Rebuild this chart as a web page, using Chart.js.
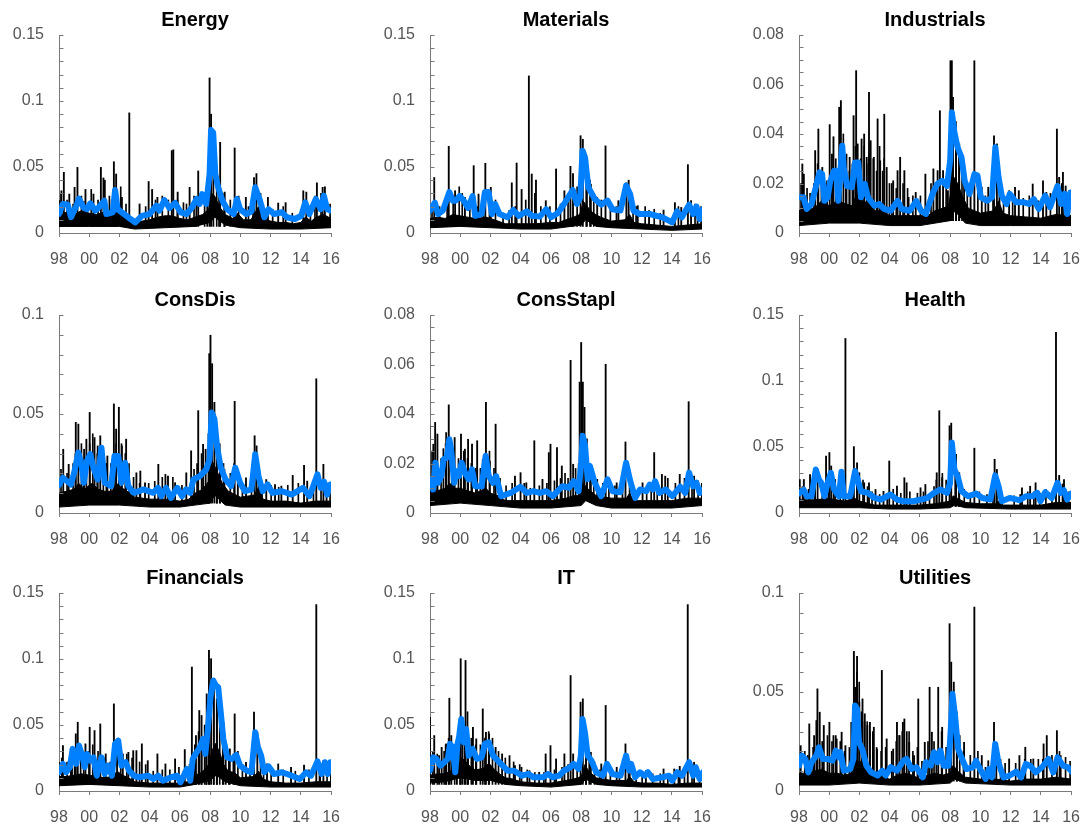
<!DOCTYPE html>
<html>
<head>
<meta charset="utf-8">
<title>Sector volatility</title>
<script src="https://cdn.jsdelivr.net/npm/chart.js@4.4.0/dist/chart.umd.min.js"></script>
<style>
  body { margin: 0; background: #fff; overflow: hidden; }
  #wrap { position: relative; width: 1092px; height: 829px; }
  #wrap canvas { position: absolute; }
</style>
</head>
<body>
<div id="wrap"></div>
<script>
// ---- data: [year, value] ----
// blue = smoothed estimate, hi/lo = body of the daily series, spikes/small = daily peaks
var energyBlue = [[1998,.0144],[1998.25,.022],[1998.58,.0215],[1998.8,.012],[1999.2,.022],[1999.32,.026],[1999.64,.019],[1999.85,.018],[2000.07,.0225],[2000.4,.017],[2000.6,.019],[2001,.0245],[2001.13,.0144],[2001.56,.0157],[2001.71,.0326],[2001.88,.018],[2002.3,.0144],[2002.73,.0106],[2003.05,.008],[2003.48,.013],[2004,.0144],[2004.44,.0207],[2004.65,.017],[2004.97,.025],[2005.3,.019],[2005.68,.0227],[2006.04,.0157],[2006.46,.0144],[2006.78,.019],[2007.1,.0258],[2007.3,.022],[2007.47,.0295],[2007.74,.022],[2007.96,.0447],[2008.06,.078],[2008.2,.076],[2008.34,.0447],[2008.53,.0346],[2008.81,.0245],[2009.13,.018],[2009.56,.0144],[2009.77,.0258],[2009.98,.018],[2010.4,.0144],[2010.73,.0164],[2010.98,.0346],[2011.26,.0258],[2011.43,.019],[2011.58,.0119],[2011.86,.018],[2012.22,.0144],[2012.75,.0157],[2013.07,.0119],[2013.6,.0106],[2014.03,.0131],[2014.29,.0232],[2014.56,.0144],[2014.99,.0258],[2015.31,.018],[2015.52,.0283],[2015.74,.018],[2015.95,.017],[2016.05,.0174]];
var energyHi = [[1998,.013],[1998.5,.016],[1999,.014],[1999.5,.017],[2000,.015],[2000.5,.014],[2001,.016],[2001.5,.012],[2001.75,.02],[2002,.014],[2002.5,.011],[2003,.008],[2003.5,.009],[2004,.01],[2004.5,.012],[2005,.013],[2005.5,.013],[2006,.011],[2006.5,.01],[2007,.012],[2007.5,.014],[2007.9,.018],[2008.1,.03],[2008.3,.028],[2008.6,.02],[2009,.014],[2009.5,.011],[2009.8,.015],[2010.2,.01],[2010.7,.01],[2011,.016],[2011.2,.02],[2011.5,.011],[2012,.009],[2012.5,.008],[2013,.008],[2013.5,.007],[2014,.008],[2014.3,.012],[2014.7,.009],[2015,.012],[2015.5,.014],[2016,.011]];
var energyLo = [[1998,.005],[2000,.005],[2002,.005],[2003,.003],[2005,.004],[2007,.005],[2008,.008],[2008.3,.012],[2009,.006],[2010,.004],[2012,.003],[2014,.003],[2016,.004]];
var energySpikes = [[1998.04,.0245],[1998.2,.032],[1998.36,.046],[1998.72,.0295],[1999.07,.0346],[1999.26,.0497],[1999.79,.033],[2000.32,.0295],[2000.81,.0497],[2000.98,.0417],[2001.07,.04],[2001.67,.054],[2001.82,.0447],[2002.2,.027],[2002.69,.091],[2003.37,.022],[2003.97,.039],[2004.2,.033],[2004.55,.027],[2005.5,.0624],[2005.6,.063],[2005.89,.031],[2006.68,.0346],[2007.25,.047],[2007.85,.0384],[2008.0,.1175],[2008.1,.09],[2008.25,.065],[2008.7,.0687],[2009.0,.031],[2009.66,.0644],[2010.4,.027],[2010.94,.042],[2011.1,.045],[2011.86,.027],[2012.54,.0227],[2013.03,.023],[2014.2,.032],[2014.4,.031],[2015.1,.038],[2015.48,.0346],[2015.63,.035]];
var energySmall = [[1998.1,.03],[1998.5,.025],[1998.9,.022],[1999.45,.028],[1999.6,.024],[2000.1,.033],[2000.55,.025],[2001.3,.028],[2001.45,.025],[2002.05,.035],[2002.4,.022],[2003.7,.02],[2004.35,.025],[2004.8,.028],[2005.2,.025],[2005.8,.025],[2006.2,.023],[2006.4,.022],[2006.9,.028],[2007.05,.026],[2007.6,.03],[2008.4,.05],[2008.55,.04],[2008.9,.03],[2009.3,.025],[2009.85,.028],[2010.5,.02],[2010.8,.02],[2011.3,.03],[2012.1,.018],[2012.8,.02],[2013.4,.015],[2014.6,.02],[2014.9,.028],[2015.3,.03],[2015.9,.022]];

var materialsBlue = [[1998,.017],[1998.32,.023],[1998.53,.0144],[1998.85,.017],[1999.28,.031],[1999.5,.0245],[1999.7,.0245],[1999.96,.028],[2000.24,.0245],[2000.52,.019],[2000.82,.028],[2000.99,.013],[2001.42,.0144],[2001.63,.031],[2001.88,.031],[2002.1,.0144],[2002.31,.022],[2002.59,.0144],[2003.13,.0119],[2003.5,.0174],[2003.87,.013],[2004.4,.0164],[2004.73,.013],[2005.26,.0124],[2005.69,.018],[2006.01,.0119],[2006.44,.015],[2006.87,.022],[2007.44,.0326],[2007.72,.022],[2007.94,.027],[2008.09,.0624],[2008.26,.057],[2008.47,.0346],[2008.9,.0258],[2009.32,.0215],[2009.75,.0245],[2010.07,.018],[2010.6,.017],[2010.97,.0359],[2011.24,.0295],[2011.46,.017],[2011.88,.0144],[2012.53,.0144],[2013.38,.0119],[2014.02,.008],[2014.34,.0164],[2014.66,.0119],[2015.14,.0215],[2015.41,.0144],[2015.63,.02],[2015.84,.0106],[2016.05,.018]];
var materialsHi = [[1998,.011],[1998.5,.012],[1999,.011],[1999.5,.014],[2000,.013],[2000.5,.012],[2001,.011],[2001.7,.012],[2002,.011],[2002.5,.009],[2003,.007],[2004,.007],[2005,.007],[2006,.008],[2006.5,.008],[2007,.01],[2007.5,.012],[2007.9,.014],[2008.15,.024],[2008.4,.02],[2008.8,.015],[2009.3,.012],[2010,.009],[2010.9,.01],[2011.2,.014],[2011.5,.008],[2012,.007],[2013,.006],[2014,.005],[2015,.006],[2016,.007]];
var materialsLo = [[1998,.004],[2000,.005],[2002,.004],[2004,.003],[2006,.003],[2008,.006],[2008.3,.01],[2009,.005],[2010,.004],[2012,.003],[2014,.002],[2016,.003]];
var materialsSpikes = [[1998.32,.042],[1999.28,.0657],[1999.7,.032],[2000.35,.027],[2000.93,.051],[2001.25,.0295],[2001.7,.0528],[2002.06,.0346],[2003.45,.038],[2003.77,.053],[2004.1,.033],[2004.58,.119],[2004.77,.0447],[2005.05,.04],[2005.7,.0245],[2006.38,.0485],[2006.93,.032],[2007.33,.0505],[2007.5,.045],[2008.0,.0737],[2008.15,.071],[2008.42,.0485],[2008.68,.037],[2009.1,.027],[2009.65,.066],[2010.5,.0245],[2011.03,.038],[2011.18,.04],[2011.78,.0207],[2012.53,.017],[2013.49,.0174],[2014.24,.023],[2014.66,.0194],[2015.1,.0518],[2015.31,.0245],[2015.74,.0207]];
var materialsSmall = [[1998.1,.022],[1998.6,.02],[1999.1,.025],[1999.5,.028],[1999.9,.035],[2000.1,.03],[2000.6,.025],[2001.1,.02],[2001.5,.022],[2001.9,.03],[2002.3,.025],[2002.8,.015],[2003.2,.017],[2003.6,.02],[2004.3,.025],[2004.9,.03],[2005.3,.02],[2005.9,.02],[2006.6,.022],[2007.1,.03],[2007.7,.035],[2008.3,.045],[2008.55,.04],[2008.8,.03],[2009.3,.025],[2009.9,.02],[2010.3,.02],[2011.4,.025],[2011.6,.02],[2012.2,.02],[2012.8,.018],[2013.2,.015],[2014.4,.02],[2015.5,.022],[2015.9,.02]];

var industrialsBlue = [[1998,.0144],[1998.3,.0144],[1998.51,.0097],[1998.83,.0117],[1999.11,.0185],[1999.36,.0245],[1999.53,.0238],[1999.68,.013],[1999.9,.0144],[2000.05,.0205],[2000.32,.0252],[2000.47,.0252],[2000.6,.013],[2000.86,.0353],[2000.96,.0265],[2001.18,.019],[2001.5,.0185],[2001.71,.0285],[2001.92,.0285],[2002.1,.0144],[2002.35,.0198],[2002.56,.0144],[2002.99,.011],[2003.31,.0117],[2003.63,.0097],[2004.06,.009],[2004.52,.013],[2004.8,.0097],[2005.33,.009],[2005.76,.013],[2006.08,.009],[2006.4,.0077],[2006.83,.0158],[2007.15,.0198],[2007.47,.0211],[2007.79,.019],[2008,.0292],[2008.11,.0488],[2008.28,.0407],[2008.49,.0346],[2008.75,.0306],[2008.96,.0211],[2009.28,.0158],[2009.6,.0238],[2009.81,.0232],[2010.03,.0144],[2010.45,.013],[2010.77,.0144],[2010.99,.0346],[2011.2,.0225],[2011.41,.0151],[2011.73,.0117],[2011.94,.0158],[2012.37,.0124],[2012.9,.0124],[2013.22,.0117],[2013.54,.0137],[2013.86,.0097],[2014.29,.0151],[2014.61,.0104],[2015.1,.019],[2015.35,.0117],[2015.57,.0158],[2015.74,.0077],[2015.95,.0164],[2016.1,.0144]];
var industrialsHi = [[1998,.009],[1998.5,.01],[1999,.01],[1999.5,.013],[2000,.011],[2000.5,.013],[2001,.012],[2001.5,.011],[2001.85,.016],[2002.2,.013],[2002.6,.012],[2003,.009],[2003.5,.009],[2004,.007],[2005,.007],[2006,.007],[2006.5,.007],[2007,.009],[2007.5,.01],[2007.9,.011],[2008.2,.023],[2008.5,.02],[2008.8,.015],[2009.2,.01],[2010,.008],[2010.9,.009],[2011.2,.013],[2011.5,.008],[2012,.007],[2013,.0065],[2014,.006],[2015,.0075],[2016,.007]];
var industrialsLo = [[1998,.003],[2000,.004],[2002,.004],[2004,.003],[2006,.003],[2008,.005],[2008.3,.009],[2009,.004],[2010,.003],[2012,.003],[2014,.003],[2016,.003]];
var industrialsSpikes = [[1998.26,.0279],[1998.36,.0238],[1999.11,.0333],[1999.32,.042],[1999.58,.0265],[1999.9,.0211],[2000.07,.0438],[2000.22,.0319],[2000.32,.0389],[2000.7,.0508],[2000.81,.0535],[2001.18,.0319],[2001.39,.0306],[2001.65,.0474],[2001.82,.0656],[2001.92,.036],[2002.18,.038],[2002.35,.04],[2002.52,.0306],[2002.67,.0568],[2002.78,.0373],[2002.99,.0306],[2003.24,.0461],[2003.41,.0292],[2003.68,.048],[2003.84,.0265],[2004.27,.0211],[2004.56,.0252],[2004.73,.0306],[2005.01,.0252],[2005.29,.0144],[2005.76,.0164],[2006.4,.0238],[2006.93,.0259],[2007.21,.0252],[2007.36,.0494],[2007.57,.0252],[2007.89,.0171],[2008.06,.0696],[2008.15,.0696],[2008.23,.0548],[2008.43,.0413],[2008.64,.036],[2008.96,.0252],[2009.39,.0185],[2009.64,.0696],[2010.13,.0185],[2010.56,.0185],[2010.94,.0393],[2011.13,.036],[2011.3,.0238],[2011.94,.0171],[2012.33,.0185],[2012.58,.0171],[2013.5,.0198],[2014.18,.0211],[2014.4,.0164],[2015.1,.042],[2015.25,.0225],[2015.5,.0245],[2015.68,.019]];
var industrialsSmall = [[1998.1,.02],[1998.5,.018],[1998.7,.016],[1998.95,.02],[1999.2,.028],[1999.45,.022],[1999.75,.02],[2000.15,.025],[2000.4,.03],[2000.55,.025],[2000.9,.04],[2001.05,.03],[2001.3,.025],[2001.5,.028],[2001.7,.035],[2002.05,.03],[2002.28,.035],[2002.45,.028],[2002.6,.032],[2002.88,.03],[2003.1,.025],[2003.3,.035],[2003.5,.025],[2003.6,.03],[2003.95,.02],[2004.1,.02],[2004.4,.018],[2004.85,.02],[2005.15,.018],[2005.5,.015],[2006.0,.015],[2006.7,.02],[2007.05,.02],[2007.7,.022],[2008.35,.045],[2008.55,.035],[2008.75,.03],[2009.1,.02],[2009.8,.02],[2010.3,.015],[2010.8,.018],[2011.5,.015],[2012.1,.014],[2012.8,.014],[2013.2,.015],[2013.8,.013],[2014.6,.016],[2015.35,.02],[2015.85,.015]];

var consDisBlue = [[1998,.0141],[1998.26,.0178],[1998.58,.0158],[1998.79,.0144],[1999,.0203],[1999.28,.0305],[1999.49,.0246],[1999.64,.0153],[1999.85,.0263],[2000.07,.0297],[2000.28,.0229],[2000.56,.0169],[2000.81,.033],[2001.02,.0153],[2001.45,.0136],[2001.67,.0288],[2001.92,.0288],[2002.13,.0153],[2002.37,.0254],[2002.58,.0136],[2002.95,.0102],[2003.59,.0119],[2004.23,.0102],[2004.55,.0127],[2004.76,.0085],[2005.08,.0127],[2005.4,.0076],[2005.82,.0127],[2006.14,.0085],[2006.4,.0119],[2006.68,.0102],[2006.89,.0169],[2007.32,.0186],[2007.74,.022],[2007.96,.0271],[2008.1,.0508],[2008.28,.0475],[2008.45,.0339],[2008.7,.0229],[2009.02,.0169],[2009.39,.0136],[2009.66,.0229],[2009.98,.0153],[2010.3,.011],[2010.73,.0119],[2010.98,.0297],[2011.2,.0186],[2011.47,.011],[2011.8,.0144],[2012.11,.0102],[2012.75,.011],[2013.39,.0093],[2014.14,.0127],[2014.57,.0085],[2015.1,.0195],[2015.31,.0127],[2015.53,.0158],[2015.74,.0093],[2015.95,.0144],[2016.1,.0132]];
var consDisHi = [[1998,.01],[1998.5,.011],[1999,.012],[1999.3,.015],[1999.7,.012],[2000,.014],[2000.2,.015],[2000.6,.012],[2001,.011],[2001.5,.011],[2001.8,.015],[2002.1,.013],[2002.5,.011],[2003,.008],[2004,.007],[2005,.007],[2006,.006],[2006.6,.007],[2007,.01],[2007.5,.012],[2007.9,.016],[2008.15,.026],[2008.4,.022],[2008.8,.015],[2009.2,.011],[2010,.008],[2010.9,.009],[2011.2,.013],[2011.5,.007],[2012,.006],[2013,.006],[2014,.005],[2015,.006],[2016,.006]];
var consDisLo = [[1998,.003],[2000,.004],[2002,.004],[2004,.003],[2006,.003],[2008,.005],[2008.3,.009],[2009,.004],[2010,.003],[2012,.003],[2014,.003],[2016,.003]];
var consDisSpikes = [[1998.32,.0322],[1998.68,.0246],[1999.15,.0458],[1999.32,.0449],[1999.7,.0322],[1999.85,.0373],[2000.07,.0508],[2000.39,.0381],[2000.6,.0339],[2000.77,.039],[2001.24,.0288],[2001.67,.0551],[2001.82,.0424],[2002.0,.0534],[2002.2,.0339],[2002.48,.0373],[2003.16,.0203],[2003.42,.0212],[2003.73,.0153],[2004.61,.0246],[2005.08,.0195],[2005.25,.0186],[2005.72,.0153],[2006.46,.0203],[2006.78,.0314],[2007.25,.0517],[2007.57,.0347],[2007.74,.0322],[2007.98,.0805],[2008.06,.0898],[2008.17,.0754],[2008.32,.0559],[2008.49,.0364],[2008.7,.0288],[2008.98,.022],[2009.66,.0564],[2009.87,.0186],[2010.41,.0178],[2010.98,.039],[2011.11,.0339],[2011.26,.0186],[2011.75,.0169],[2012.33,.0144],[2012.75,.0136],[2013.5,.019],[2014.25,.0241],[2014.46,.0161],[2015.06,.0678],[2015.53,.0246],[2015.74,.0153]];
var consDisSmall = [[1998.1,.022],[1998.5,.02],[1998.9,.025],[1999.05,.03],[1999.45,.035],[1999.6,.025],[2000.0,.035],[2000.2,.04],[2000.5,.03],[2000.9,.03],[2001.1,.025],[2001.4,.025],[2001.75,.035],[2002.1,.035],[2002.35,.03],[2002.6,.025],[2002.9,.018],[2003.3,.015],[2003.9,.015],[2004.3,.016],[2004.8,.018],[2005.5,.018],[2006.1,.014],[2006.9,.022],[2007.1,.025],[2007.4,.03],[2007.85,.04],[2008.4,.045],[2008.6,.035],[2008.85,.025],[2009.3,.02],[2009.55,.025],[2010.1,.015],[2010.7,.016],[2011.4,.015],[2012.0,.014],[2012.5,.013],[2013.1,.014],[2013.8,.015],[2014.8,.014],[2015.3,.016],[2015.9,.014]];

var consStaplBlue = [[1998,.0136],[1998.21,.0095],[1998.36,.0203],[1998.53,.0122],[1998.75,.0149],[1998.9,.0217],[1999.11,.0224],[1999.28,.0298],[1999.39,.0258],[1999.6,.0122],[1999.75,.0169],[1999.92,.0149],[2000.09,.0203],[2000.31,.0163],[2000.56,.0136],[2000.78,.0176],[2000.99,.0108],[2001.42,.0108],[2001.68,.0231],[2001.89,.0149],[2002.17,.0122],[2002.38,.0149],[2002.7,.0068],[2003.34,.0081],[2003.98,.0106],[2004.41,.0081],[2004.84,.0088],[2005.26,.0081],[2005.69,.0088],[2006.12,.0068],[2006.44,.0088],[2006.76,.0108],[2007.19,.0102],[2007.51,.0129],[2007.83,.0088],[2008,.0203],[2008.1,.0312],[2008.26,.0271],[2008.43,.0136],[2008.58,.019],[2008.9,.0122],[2009.32,.0068],[2009.75,.0136],[2010.07,.0088],[2010.6,.0084],[2010.97,.0203],[2011.25,.0129],[2011.57,.0061],[2011.89,.0095],[2012.32,.0088],[2012.53,.0115],[2012.74,.0095],[2012.89,.0129],[2013.17,.0081],[2013.6,.0095],[2014.03,.0068],[2014.56,.0106],[2014.88,.0081],[2015.14,.0163],[2015.41,.0108],[2015.63,.0122],[2015.84,.0081],[2016.06,.0095]];
var consStaplHi = [[1998,.009],[1998.5,.009],[1999,.01],[1999.3,.012],[1999.7,.01],[2000,.01],[2000.5,.009],[2001,.008],[2001.7,.01],[2002,.008],[2002.5,.007],[2003,.005],[2004,.005],[2005,.005],[2006,.005],[2007,.006],[2007.5,.007],[2007.9,.007],[2008.15,.012],[2008.4,.01],[2009,.007],[2010,.006],[2011,.006],[2011.2,.008],[2011.5,.005],[2012,.005],[2013,.005],[2014,.005],[2015,.006],[2016,.006]];
var consStaplLo = [[1998,.003],[2000,.004],[2002,.003],[2004,.002],[2006,.002],[2008,.003],[2008.3,.005],[2009,.003],[2010,.002],[2012,.002],[2014,.002],[2016,.003]];
var consStaplSpikes = [[1998.0,.0353],[1998.26,.0278],[1998.38,.0366],[1998.53,.0319],[1999.11,.0325],[1999.28,.0437],[1999.67,.0305],[2000.09,.0319],[2000.35,.0258],[2000.56,.0298],[2000.82,.0278],[2001.16,.0292],[2001.53,.0217],[2001.74,.0447],[2002.0,.021],[2002.38,.0359],[2003.66,.0149],[2004.03,.0163],[2004.41,.0122],[2004.94,.0292],[2005.48,.0136],[2005.9,.0244],[2006.01,.0278],[2006.44,.0264],[2006.76,.019],[2007.34,.0617],[2007.51,.0197],[2007.94,.0529],[2008.04,.0689],[2008.15,.0529],[2008.26,.0427],[2008.43,.0231],[2008.68,.0163],[2009.1,.0136],[2009.66,.0601],[2010.39,.0122],[2010.97,.0287],[2011.25,.0149],[2012.1,.0122],[2012.87,.0244],[2013.38,.0156],[2013.6,.0149],[2014.56,.0156],[2015.15,.045],[2015.51,.0149]];
var consStaplSmall = [[1998.1,.025],[1998.45,.02],[1998.7,.022],[1998.85,.026],[1999.0,.028],[1999.2,.03],[1999.4,.025],[1999.55,.02],[1999.85,.022],[2000.2,.025],[2000.45,.022],[2000.7,.02],[2001.0,.018],[2001.3,.018],[2001.6,.02],[2001.9,.025],[2002.2,.018],[2002.6,.014],[2003.0,.011],[2003.4,.012],[2004.2,.012],[2004.6,.01],[2005.2,.011],[2005.7,.012],[2006.2,.013],[2006.6,.014],[2006.9,.016],[2007.1,.014],[2007.6,.018],[2007.8,.02],[2008.35,.03],[2008.55,.02],[2008.8,.014],[2009.4,.012],[2009.8,.014],[2010.2,.011],[2010.7,.011],[2011.4,.01],[2012.3,.011],[2012.6,.012],[2013.0,.012],[2013.7,.014],[2014.2,.012],[2014.8,.014],[2015.3,.013],[2015.7,.013],[2015.95,.012]];

var healthBlue = [[1998,.0147],[1998.3,.0178],[1998.51,.0127],[1998.83,.0127],[1999.11,.033],[1999.32,.0254],[1999.47,.0229],[1999.68,.0127],[1999.9,.0229],[2000.11,.0305],[2000.32,.0178],[2000.64,.0127],[2000.81,.0313],[2000.96,.0127],[2001.39,.0127],[2001.71,.0318],[2001.88,.0254],[2002.1,.0165],[2002.56,.0153],[2002.99,.0114],[2003.42,.0102],[2004.06,.014],[2004.48,.0102],[2004.91,.0089],[2005.55,.0089],[2006.08,.0102],[2006.5,.0114],[2006.93,.0153],[2007.36,.0178],[2007.79,.0153],[2008,.0229],[2008.11,.0534],[2008.28,.033],[2008.49,.028],[2008.75,.0165],[2009.18,.0127],[2009.71,.0147],[2010.13,.0114],[2010.66,.0102],[2010.98,.0285],[2011.2,.0203],[2011.41,.0089],[2011.94,.0114],[2012.58,.0097],[2013.01,.0127],[2013.44,.0127],[2013.76,.0153],[2013.97,.0089],[2014.29,.0158],[2014.72,.0114],[2015.1,.0229],[2015.31,.0153],[2015.52,.0173],[2015.74,.0102],[2015.99,.0147]];
var healthHi = [[1998,.01],[1999,.01],[2000,.011],[2001,.009],[2001.7,.011],[2002,.009],[2003,.006],[2004,.006],[2005,.006],[2006,.006],[2007,.007],[2007.5,.008],[2008,.009],[2008.2,.013],[2008.5,.011],[2009,.008],[2010,.007],[2011,.007],[2011.2,.009],[2011.5,.006],[2012,.006],[2013,.006],[2014,.006],[2015,.008],[2016,.008]];
var healthLo = [[1998,.004],[2000,.004],[2002,.004],[2004,.003],[2006,.003],[2008,.004],[2008.3,.006],[2009,.004],[2012,.003],[2014,.003],[2016,.003]];
var healthSpikes = [[1998.09,.0254],[1998.36,.0254],[1998.77,.0292],[1999.11,.0242],[1999.83,.0432],[2000.05,.0458],[2000.17,.0356],[2000.43,.0254],[2001.11,.1322],[2001.67,.0503],[2001.88,.0381],[2002.03,.0305],[2002.35,.0229],[2002.67,.0229],[2003.1,.0178],[2003.63,.0165],[2004.01,.0394],[2004.52,.0203],[2005.01,.0267],[2005.16,.0229],[2006.08,.0191],[2006.4,.0216],[2007.15,.0305],[2007.32,.0775],[2007.51,.0267],[2008.0,.0661],[2008.11,.0681],[2008.43,.0445],[2008.64,.0305],[2009.64,.0491],[2010.98,.0407],[2011.13,.033],[2012.79,.0191],[2013.33,.0203],[2013.69,.0229],[2015.04,.1368],[2015.25,.0285],[2015.57,.0254]];
var healthSmall = [[1998.2,.02],[1998.6,.018],[1999.0,.02],[1999.2,.025],[1999.5,.022],[1999.9,.025],[2000.25,.025],[2000.7,.02],[2000.9,.02],[2001.3,.016],[2001.5,.018],[2001.8,.03],[2002.2,.025],[2002.5,.02],[2002.8,.016],[2003.3,.014],[2003.8,.015],[2004.2,.018],[2004.7,.015],[2005.3,.016],[2005.8,.015],[2006.2,.016],[2006.6,.014],[2006.9,.02],[2007.05,.025],[2007.45,.03],[2007.7,.025],[2008.3,.04],[2008.55,.03],[2008.9,.018],[2009.3,.015],[2009.9,.016],[2010.4,.014],[2010.8,.014],[2011.4,.012],[2012.2,.013],[2012.6,.014],[2013.1,.016],[2013.5,.016],[2013.9,.015],[2014.3,.018],[2014.7,.016],[2015.4,.022],[2015.8,.016]];

var financialsBlue = [[1998,.0142],[1998.26,.0205],[1998.47,.0142],[1998.72,.018],[1998.9,.0319],[1999.15,.0205],[1999.32,.0344],[1999.54,.0268],[1999.7,.018],[1999.85,.0281],[2000.07,.023],[2000.28,.0255],[2000.5,.0116],[2000.81,.0255],[2001.02,.0129],[2001.24,.0192],[2001.5,.0116],[2001.71,.0357],[2001.92,.0382],[2002.13,.0192],[2002.41,.0218],[2002.63,.0154],[2002.95,.0116],[2003.27,.0104],[2003.91,.0116],[2004.23,.0091],[2004.55,.0116],[2004.87,.0078],[2005.4,.0104],[2005.82,.0116],[2006.04,.0066],[2006.46,.0167],[2006.68,.0078],[2006.85,.0243],[2007.1,.0293],[2007.32,.0331],[2007.53,.0395],[2007.68,.0281],[2007.85,.047],[2008.02,.0711],[2008.21,.0837],[2008.38,.0799],[2008.53,.0787],[2008.7,.0597],[2008.87,.0395],[2009.13,.0255],[2009.45,.0243],[2009.73,.0273],[2009.98,.0192],[2010.41,.0154],[2010.73,.0142],[2010.98,.0445],[2011.16,.0331],[2011.37,.0268],[2011.58,.0142],[2011.86,.0187],[2012.22,.0129],[2012.75,.0142],[2013.39,.0116],[2013.93,.0091],[2014.35,.0142],[2014.67,.0116],[2015.1,.0225],[2015.37,.0129],[2015.59,.0218],[2015.78,.0129],[2015.95,.0218],[2016.1,.0205]];
var financialsHi = [[1998,.011],[1998.5,.011],[1999,.012],[1999.5,.013],[2000,.012],[2000.5,.011],[2001,.01],[2001.5,.011],[2001.85,.015],[2002.2,.012],[2002.6,.01],[2003,.007],[2004,.006],[2005,.006],[2006,.006],[2006.5,.007],[2006.9,.012],[2007.3,.013],[2007.6,.016],[2007.9,.02],[2008.1,.03],[2008.35,.036],[2008.6,.03],[2008.9,.02],[2009.2,.015],[2009.6,.014],[2010,.01],[2010.9,.011],[2011.2,.015],[2011.5,.009],[2012,.007],[2013,.006],[2014,.006],[2015,.007],[2016,.007]];
var financialsLo = [[1998,.004],[2000,.005],[2002,.004],[2004,.003],[2006,.003],[2007,.005],[2008,.008],[2008.4,.012],[2009,.007],[2010,.004],[2012,.003],[2014,.003],[2016,.003]];
var financialsSpikes = [[1998.04,.0218],[1998.3,.0344],[1998.9,.0268],[1999.15,.0433],[1999.28,.0521],[1999.79,.0357],[2000.07,.0483],[2000.39,.0458],[2000.77,.0508],[2001.13,.0281],[2001.67,.066],[2001.88,.0395],[2002.26,.0281],[2002.63,.0293],[2002.95,.0306],[2003.16,.0306],[2003.52,.0357],[2003.91,.023],[2004.55,.0281],[2005.08,.0205],[2005.72,.0243],[2006.36,.0314],[2006.83,.0939],[2007.1,.042],[2007.32,.061],[2007.47,.0572],[2007.81,.0736],[2007.96,.1065],[2008.1,.1002],[2008.28,.0774],[2008.49,.0673],[2008.92,.0521],[2009.34,.0319],[2009.66,.0584],[2010.41,.0218],[2010.94,.0597],[2011.16,.0445],[2011.8,.0205],[2012.54,.0205],[2013.39,.018],[2014.25,.0197],[2015.06,.1412],[2015.31,.0167],[2015.53,.023]];
var financialsSmall = [[1998.15,.025],[1998.5,.022],[1998.75,.025],[1999.0,.03],[1999.4,.035],[1999.6,.028],[1999.95,.03],[2000.2,.035],[2000.55,.03],[2000.95,.025],[2001.35,.022],[2001.55,.025],[2002.05,.03],[2002.45,.028],[2002.8,.025],[2003.3,.022],[2003.7,.02],[2004.2,.015],[2004.8,.016],[2005.3,.016],[2005.9,.018],[2006.2,.015],[2006.6,.02],[2006.95,.035],[2007.2,.045],[2007.4,.04],[2007.6,.05],[2007.7,.045],[2007.9,.06],[2008.2,.08],[2008.4,.07],[2008.6,.06],[2008.8,.045],[2009.0,.035],[2009.2,.03],[2009.5,.028],[2009.8,.03],[2010.1,.02],[2010.6,.018],[2011.3,.03],[2011.5,.02],[2012.0,.018],[2012.8,.016],[2013.6,.015],[2014.5,.016],[2015.2,.02],[2015.7,.02],[2015.95,.02]];

var itBlue = [[1998,.0154],[1998.21,.0255],[1998.43,.0243],[1998.68,.0192],[1998.96,.0218],[1999.18,.0243],[1999.32,.0357],[1999.5,.0331],[1999.67,.0142],[1999.82,.0357],[1999.92,.0407],[2000.07,.0546],[2000.24,.0369],[2000.39,.047],[2000.56,.0268],[2000.82,.0319],[2001.1,.0243],[2001.42,.0255],[2001.63,.0357],[2001.89,.0369],[2002.17,.0268],[2002.59,.0218],[2003.13,.0154],[2003.56,.0154],[2004.09,.0116],[2004.52,.0129],[2004.84,.0104],[2005.48,.0104],[2005.8,.0129],[2006.12,.0104],[2006.55,.0116],[2006.87,.0154],[2007.29,.018],[2007.5,.0205],[2007.83,.0167],[2007.98,.0268],[2008.09,.0546],[2008.26,.0433],[2008.43,.0268],[2008.68,.023],[2009,.0142],[2009.43,.0116],[2009.71,.0205],[2010.07,.0129],[2010.6,.0116],[2010.97,.0268],[2011.18,.0154],[2011.31,.0205],[2011.57,.0104],[2011.89,.0142],[2012.21,.0116],[2012.42,.0142],[2012.74,.0091],[2013.38,.0104],[2013.81,.0116],[2014.02,.0078],[2014.35,.0142],[2014.67,.0116],[2015.14,.0218],[2015.41,.0116],[2015.58,.018],[2015.84,.0091],[2016.06,.0142]];
var itHi = [[1998,.012],[1998.5,.013],[1999,.013],[1999.5,.016],[1999.9,.02],[2000.1,.025],[2000.4,.022],[2000.7,.018],[2001,.016],[2001.5,.017],[2001.9,.021],[2002.3,.016],[2002.7,.012],[2003,.01],[2003.5,.009],[2004,.007],[2005,.006],[2006,.006],[2007,.008],[2007.5,.009],[2008,.011],[2008.25,.02],[2008.5,.015],[2009,.01],[2010,.008],[2011,.008],[2011.2,.011],[2011.5,.007],[2012,.006],[2013,.006],[2014,.005],[2015,.006],[2016,.006]];
var itLo = [[1998,.006],[1999,.007],[2000,.01],[2001,.008],[2002,.008],[2003,.005],[2004,.004],[2006,.003],[2008,.005],[2008.3,.009],[2009,.005],[2010,.004],[2012,.003],[2014,.003],[2016,.003]];
var itSpikes = [[1998.04,.0559],[1998.32,.042],[1998.64,.0268],[1998.81,.0331],[1999.11,.0357],[1999.32,.0703],[1999.45,.042],[1999.82,.0369],[2000.07,.1002],[2000.18,.0521],[2000.39,.0989],[2000.56,.047],[2000.88,.0483],[2001.1,.0395],[2001.53,.0622],[2001.74,.0445],[2001.95,.0433],[2002.38,.0331],[2002.81,.0281],[2003.3,.0268],[2003.66,.0192],[2004.09,.018],[2004.62,.0154],[2005.26,.0142],[2005.69,.0281],[2006.01,.0344],[2006.38,.0243],[2006.93,.0281],[2007.34,.0875],[2007.51,.0281],[2008.0,.0673],[2008.15,.0698],[2008.36,.0319],[2008.68,.0293],[2009.37,.0205],[2009.66,.0648],[2010.39,.018],[2010.97,.0357],[2011.25,.0192],[2012.32,.0154],[2013.49,.0167],[2014.2,.0167],[2014.56,.0187],[2015.09,.1412],[2015.51,.0218]];
var itSmall = [[1998.15,.03],[1998.45,.028],[1998.9,.03],[1999.0,.035],[1999.2,.04],[1999.6,.035],[1999.95,.05],[2000.25,.045],[2000.45,.06],[2000.7,.04],[2001.0,.035],[2001.3,.035],[2001.6,.04],[2001.85,.045],[2002.1,.04],[2002.5,.03],[2002.95,.025],[2003.5,.022],[2003.9,.02],[2004.4,.016],[2004.9,.014],[2005.5,.014],[2006.2,.016],[2006.7,.018],[2007.1,.02],[2007.7,.02],[2008.3,.04],[2008.5,.03],[2008.85,.022],[2009.2,.016],[2009.9,.018],[2010.5,.014],[2011.1,.02],[2011.6,.014],[2012.0,.014],[2012.7,.013],[2013.2,.013],[2013.7,.012],[2014.4,.014],[2014.8,.014],[2015.3,.016],[2015.8,.012]];

var utilitiesBlue = [[1998,.0128],[1998.19,.0179],[1998.41,.0162],[1998.62,.0094],[1998.83,.0145],[1999.15,.0179],[1999.32,.0221],[1999.58,.0162],[1999.9,.0162],[2000.22,.0153],[2000.43,.0204],[2000.64,.017],[2000.75,.0196],[2000.96,.0103],[2001.39,.0111],[2001.6,.0162],[2001.71,.0432],[2001.84,.0415],[2001.97,.0246],[2002.18,.0212],[2002.46,.0128],[2002.78,.0094],[2003.2,.0078],[2003.52,.0103],[2003.74,.0078],[2004.06,.012],[2004.48,.0103],[2004.91,.0153],[2005.12,.0162],[2005.44,.0111],[2005.76,.012],[2006.19,.0069],[2006.4,.0145],[2006.72,.0128],[2006.93,.0196],[2007.15,.0145],[2007.36,.0204],[2007.57,.0128],[2007.89,.0128],[2008.04,.0314],[2008.15,.0491],[2008.32,.0381],[2008.53,.0212],[2008.75,.017],[2009.07,.0111],[2009.5,.012],[2009.71,.0153],[2010.03,.0103],[2010.35,.0061],[2010.56,.0111],[2010.77,.0069],[2010.98,.0238],[2011.19,.0145],[2011.52,.0069],[2011.94,.0078],[2012.37,.0098],[2012.69,.0069],[2013.01,.0137],[2013.33,.0125],[2013.65,.0094],[2014.08,.012],[2014.5,.0162],[2014.82,.0094],[2015.1,.017],[2015.46,.0128],[2015.78,.012],[2016.1,.0094]];
var utilitiesHi = [[1998,.009],[1998.5,.009],[1999,.01],[1999.5,.011],[2000,.009],[2000.5,.009],[2001,.008],[2001.5,.009],[2001.75,.014],[2002.1,.015],[2002.5,.012],[2003,.008],[2003.5,.007],[2004,.006],[2004.5,.008],[2005,.009],[2005.5,.008],[2006,.006],[2006.5,.008],[2007,.009],[2007.5,.008],[2008,.009],[2008.2,.013],[2008.5,.01],[2009,.007],[2010,.006],[2011,.006],[2012,.005],[2013,.006],[2014,.006],[2015,.007],[2016,.006]];
var utilitiesLo = [[1998,.003],[2000,.003],[2002,.004],[2004,.003],[2006,.003],[2008,.004],[2008.3,.006],[2009,.004],[2012,.003],[2014,.003],[2016,.003]];
var utilitiesSpikes = [[1998.15,.0229],[1998.72,.0339],[1999.04,.028],[1999.19,.0356],[1999.26,.0516],[1999.41,.0398],[1999.68,.0331],[2000.05,.0347],[2000.32,.028],[2000.53,.0263],[2000.86,.0297],[2001.11,.0229],[2001.5,.0347],[2001.67,.0705],[2001.75,.0524],[2001.88,.068],[2002.03,.0449],[2002.24,.0465],[2002.39,.039],[2002.56,.0331],[2002.73,.0347],[2002.99,.0322],[2003.2,.0212],[2003.52,.0609],[2003.84,.0263],[2004.27,.0212],[2004.52,.0347],[2004.69,.028],[2004.91,.0347],[2005.01,.0364],[2005.33,.0246],[2005.65,.0179],[2005.93,.0465],[2006.36,.0246],[2006.68,.0524],[2006.83,.0297],[2007.25,.0524],[2007.51,.0322],[2008.0,.0845],[2008.11,.0651],[2008.28,.055],[2008.49,.0322],[2008.96,.0246],[2009.64,.0929],[2010.13,.0179],[2010.56,.0153],[2010.94,.0347],[2011.09,.0246],[2011.94,.0162],[2012.62,.0179],[2013.01,.0221],[2013.54,.0162],[2014.22,.0238],[2014.43,.028],[2015.1,.0305],[2015.35,.0179]];
var utilitiesSmall = [[1998.35,.02],[1998.55,.018],[1998.9,.022],[1999.5,.025],[1999.85,.028],[2000.15,.025],[2000.4,.028],[2000.7,.025],[2001.0,.02],[2001.3,.022],[2001.6,.04],[2001.8,.06],[2001.95,.055],[2002.1,.04],[2002.3,.035],[2002.48,.035],[2002.65,.03],[2002.85,.03],[2003.1,.022],[2003.4,.02],[2003.7,.022],[2004.1,.02],[2004.4,.025],[2004.6,.028],[2004.8,.03],[2005.1,.03],[2005.25,.03],[2005.5,.02],[2005.8,.022],[2006.1,.015],[2006.5,.025],[2006.9,.025],[2007.05,.02],[2007.4,.03],[2007.7,.022],[2007.9,.025],[2008.4,.04],[2008.6,.028],[2008.85,.02],[2009.3,.018],[2009.8,.02],[2010.3,.012],[2010.7,.013],[2011.3,.016],[2011.6,.014],[2012.3,.014],[2012.9,.016],[2013.3,.016],[2013.8,.016],[2014.1,.016],[2014.7,.018],[2015.2,.02],[2015.6,.017],[2015.9,.015]];

var titles = ['Energy', 'Materials', 'Industrials', 'ConsDis', 'ConsStapl', 'Health', 'Financials', 'IT', 'Utilities'];
var yMax   = [0.15, 0.15, 0.08, 0.1, 0.08, 0.15, 0.15, 0.15, 0.1];
var yMajor = [0.05, 0.05, 0.02, 0.05, 0.02, 0.05, 0.05, 0.05, 0.05];
var yMinor = [0.01, 0.01, 0.005, 0.01, 0.005, 0.01, 0.01, 0.01, 0.01];
var xTicks = ['98', '00', '02', '04', '06', '08', '10', '12', '14', '16'];
var spikeBase = 0.005;   // peaks rise out of the body of the series

var blues  = [energyBlue, materialsBlue, industrialsBlue, consDisBlue, consStaplBlue, healthBlue, financialsBlue, itBlue, utilitiesBlue];
var his    = [energyHi, materialsHi, industrialsHi, consDisHi, consStaplHi, healthHi, financialsHi, itHi, utilitiesHi];
var los    = [energyLo, materialsLo, industrialsLo, consDisLo, consStaplLo, healthLo, financialsLo, itLo, utilitiesLo];
var spikes = [energySpikes, materialsSpikes, industrialsSpikes, consDisSpikes, consStaplSpikes, healthSpikes, financialsSpikes, itSpikes, utilitiesSpikes];
var smalls = [energySmall, materialsSmall, industrialsSmall, consDisSmall, consStaplSmall, healthSmall, financialsSmall, itSmall, utilitiesSmall];

// ---- layout ----
var AXIS = '#7a7a7a', LABEL = '#555555', BLUE = '#0080ff';
var FONT = "'Liberation Sans', Arial, Helvetica, sans-serif";
var colLeft = [59, 430, 799];
var rowTop = [34.5, 315, 593];
var PW = 281.5, PH = 198;        // plot box
var YW = 56, XH = 32, TOP = 34;  // y axis width, x axis height, space for title
var CW = 350, CH = 272;

function xy(arr) {
  return arr.map(function (p) { return { x: p[0], y: p[1] }; });
}

function isMajor(v, step) {
  return Math.abs(v / step - Math.round(v / step)) < 1e-6;
}

// small inward tick marks on the y axis, plus the panel title
var panelDecor = {
  id: 'panelDecor',
  afterDraw: function (chart, args, opts) {
    var a = chart.chartArea, ctx = chart.ctx, ys = chart.scales.y;
    var x0 = Math.round(a.left) + 0.5;
    ctx.save();
    ctx.strokeStyle = AXIS;
    ctx.lineWidth = 1;
    ctx.beginPath();
    ys.ticks.forEach(function (t) {
      var py = Math.round(ys.getPixelForValue(t.value)) + 0.5;
      ctx.moveTo(x0, py);
      ctx.lineTo(x0 + 4, py);
    });
    ctx.stroke();

    ctx.fillStyle = '#000';
    ctx.font = 'bold 20px ' + FONT;
    ctx.textAlign = 'center';
    ctx.textBaseline = 'middle';
    ctx.fillText(opts.text, (a.left + a.right) / 2, a.top - 15);
    ctx.restore();
  }
};

var wrap = document.getElementById('wrap');

titles.forEach(function (title, i) {
  var cv = document.createElement('canvas');
  cv.width = CW;
  cv.height = CH;
  cv.style.left = (colLeft[i % 3] - YW) + 'px';
  cv.style.top = (rowTop[Math.floor(i / 3)] - TOP) + 'px';
  wrap.appendChild(cv);

  var major = yMajor[i];

  new Chart(cv, {
    type: 'line',
    data: {
      datasets: [
        { data: xy(blues[i]), borderColor: BLUE, borderWidth: 6, pointRadius: 0, tension: 0,
          borderJoinStyle: 'round', borderCapStyle: 'round', fill: false, order: 0 },
        { data: xy(his[i]), borderColor: '#000', backgroundColor: '#000', borderWidth: 1,
          pointRadius: 0, fill: '+1', order: 1 },
        { data: xy(los[i]), borderColor: '#000', borderWidth: 1, pointRadius: 0, fill: false, order: 2 },
        { type: 'bar', data: xy(spikes[i]), base: spikeBase, backgroundColor: '#000', borderWidth: 0,
          barThickness: 1.2, order: 3 },
        { type: 'bar', data: xy(smalls[i]), base: spikeBase, backgroundColor: '#000', borderWidth: 0,
          barThickness: 1, order: 4 }
      ]
    },
    options: {
      responsive: false,
      animation: false,
      events: [],
      layout: { padding: { top: TOP, left: 0, right: CW - YW - PW, bottom: CH - TOP - PH - XH } },
      plugins: {
        legend: { display: false },
        tooltip: { enabled: false },
        panelDecor: { text: title }
      },
      scales: {
        x: {
          type: 'linear', min: 1998, max: 2016, offset: false,
          afterFit: function (s) { s.height = XH; },
          grid: { display: true, offset: false, drawOnChartArea: false, drawTicks: true, tickLength: 4, color: AXIS },
          border: { display: true, color: AXIS },
          ticks: {
            stepSize: 2, autoSkip: false, maxRotation: 0, padding: 13, color: LABEL,
            font: { family: FONT, size: 16 },
            callback: function (v) { return xTicks[Math.round((v - 1998) / 2)]; }
          }
        },
        y: {
          min: 0, max: yMax[i],
          afterFit: function (s) { s.width = YW; },
          grid: { display: false, drawTicks: false },
          border: { display: true, color: AXIS },
          ticks: {
            stepSize: yMinor[i], autoSkip: false, padding: 15, color: LABEL,
            font: { family: FONT, size: 16 },
            callback: function (v) { return isMajor(v, major) ? String(+v.toFixed(3)) : ''; }
          }
        }
      }
    },
    plugins: [panelDecor]
  });
});
</script>
</body>
</html>
